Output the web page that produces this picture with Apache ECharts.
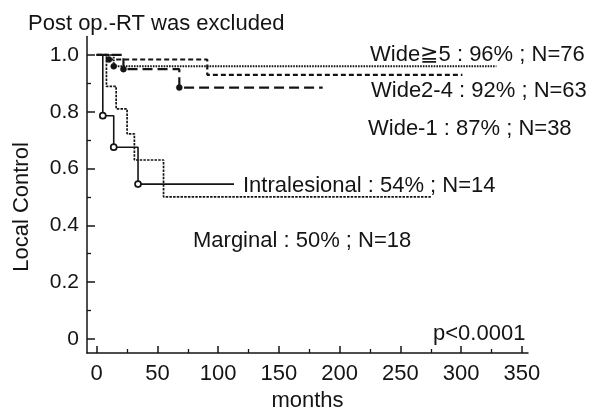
<!DOCTYPE html>
<html>
<head>
<meta charset="utf-8">
<script src="https://cdn.jsdelivr.net/npm/echarts@6/dist/echarts.min.js"></script>
<style>
html,body{margin:0;padding:0;background:#ffffff;}
#chart{width:591px;height:408px;}
</style>
</head>
<body>
<div id="chart"></div>
<script>
// ---- data (months, local control) ----
const xTickLabels = [0, 50, 100, 150, 200, 250, 300, 350];
const xMinorTicks = [25, 75, 125, 175, 225, 275, 325];
const yTickLabels = [0, 0.2, 0.4, 0.6, 0.8, 1.0];
const yMinorTicks = [0.1, 0.3, 0.5, 0.7, 0.9];

const wide5Months = [0, 14, 329];
const wide5Values = [1.0, 0.96, 0.96];
const wide5Dots = [14];

const wide24Months = [0, 10, 91, 301];
const wide24Values = [1.0, 0.984, 0.93, 0.93];
const wide24Dots = [10];

const wide1Months = [0, 22, 68, 186];
const wide1Values = [1.0, 0.95, 0.885, 0.885];
const wide1Dots = [22, 68];

const intraMonths = [0, 5, 14, 34, 113];
const intraValues = [1.0, 0.786, 0.675, 0.545, 0.545];
const intraDots = [5, 14, 34];

const marginalMonths = [0, 8, 16, 25, 31, 55, 275];
const marginalValues = [1.0, 0.889, 0.81, 0.722, 0.63, 0.50, 0.50];
const marginalDots = [];

const titleText = 'Post op.-RT was excluded';
const yAxisTitle = 'Local Control';
const xAxisTitle = 'months';
const labelWide5 = 'Wide≧5 : 96% ; N=76';
const labelWide24 = 'Wide2-4 : 92% ; N=63';
const labelWide1 = 'Wide-1 : 87% ; N=38';
const labelIntra = 'Intralesional : 54% ; N=14';
const labelMarginal = 'Marginal : 50% ; N=18';
const labelP = 'p<0.0001';

// ---- rendering ----
const INK = '#141414';
const FONT = '"Liberation Sans", Arial, "DejaVu Sans", sans-serif';

function build(months, values, dots) {
  return months.map((m, i) => ({
    value: [m, values[i]],
    symbol: dots.indexOf(m) >= 0 ? 'circle' : 'none'
  }));
}

function kmSeries(name, months, values, dots, dash, width, openDots) {
  return {
    name: name,
    type: 'line',
    step: 'end',
    xAxisIndex: 0,
    yAxisIndex: 0,
    data: build(months, values, dots),
    showSymbol: true,
    showAllSymbol: true,
    symbol: 'none',
    symbolSize: 6,
    lineStyle: { color: INK, width: width, type: dash },
    itemStyle: openDots
      ? { color: '#ffffff', borderColor: INK, borderWidth: 1.7 }
      : { color: INK, borderColor: INK, borderWidth: 0.5 },
    silent: true,
    animation: false,
    z: 3
  };
}

const chart = echarts.init(document.getElementById('chart'), null, { renderer: 'canvas' });

const axisCommon = {
  type: 'value',
  splitLine: { show: false },
  axisPointer: { show: false }
};

const option = {
  backgroundColor: '#ffffff',
  animation: false,
  grid: {
    left: 87, right: 63, top: 36.5, bottom: 55,
    containLabel: false,
    outerBoundsMode: 'none'
  },
  xAxis: [
    Object.assign({}, axisCommon, {
      min: -8, max: 355,
      position: 'bottom',
      axisLine: { show: true, onZero: false, lineStyle: { color: INK, width: 1.5 } },
      axisTick: { show: true, inside: true, length: 7, lineStyle: { color: INK, width: 1.5 }, customValues: xTickLabels },
      axisLabel: { show: true, customValues: xTickLabels, margin: 10, color: INK, fontSize: 22, fontFamily: FONT },
      name: xAxisTitle,
      nameLocation: 'middle',
      nameGap: 32,
      nameTextStyle: { color: INK, fontSize: 22, fontFamily: FONT }
    }),
    Object.assign({}, axisCommon, {
      min: -8, max: 355,
      position: 'bottom',
      axisLine: { show: false, onZero: false },
      axisTick: { show: true, inside: true, length: 4, lineStyle: { color: INK, width: 1.3 }, customValues: xMinorTicks },
      axisLabel: { show: false }
    })
  ],
  yAxis: [
    Object.assign({}, axisCommon, {
      min: -0.05, max: 1.065,
      position: 'left',
      axisLine: { show: true, onZero: false, lineStyle: { color: INK, width: 1.5 } },
      axisTick: { show: true, inside: true, length: 8, lineStyle: { color: INK, width: 1.5 }, customValues: yTickLabels },
      axisLabel: {
        show: true, customValues: yTickLabels, margin: 8, color: INK, fontSize: 21, fontFamily: FONT,
        formatter: v => (v === 0 ? '0' : v.toFixed(1))
      }
    }),
    Object.assign({}, axisCommon, {
      min: -0.05, max: 1.065,
      position: 'left',
      offset: 0,
      axisLine: { show: false, onZero: false },
      axisTick: { show: true, inside: true, length: 4, lineStyle: { color: INK, width: 1.3 }, customValues: yMinorTicks },
      axisLabel: { show: false }
    })
  ],
  series: [
    kmSeries('Marginal', marginalMonths, marginalValues, marginalDots, [2.5, 1.2], 1.7, false),
    kmSeries('Intralesional', intraMonths, intraValues, intraDots, 'solid', 1.6, true),
    kmSeries('Wide-1', wide1Months, wide1Values, wide1Dots, [10, 5], 2.2, false),
    kmSeries('Wide2-4', wide24Months, wide24Values, wide24Dots, [5, 3], 2.2, false),
    kmSeries('Wide≧5', wide5Months, wide5Values, wide5Dots, [1.6, 1.1], 1.9, false)
  ],
  graphic: [
    { type: 'text', silent: true, style: { x: 28, y: 24, text: titleText, fill: INK, font: '22px ' + FONT, textAlign: 'left', textVerticalAlign: 'middle' } },
    { type: 'text', silent: true, rotation: Math.PI / 2, x: 22, y: 207, style: { x: 0, y: 0, text: yAxisTitle, fill: INK, font: '22px ' + FONT, textAlign: 'center', textVerticalAlign: 'middle' } },
    { type: 'text', silent: true, style: { x: 370, y: 55, text: labelWide5, fill: INK, font: '22px ' + FONT, textAlign: 'left', textVerticalAlign: 'middle' } },
    { type: 'text', silent: true, style: { x: 371, y: 91, text: labelWide24, fill: INK, font: '22px ' + FONT, textAlign: 'left', textVerticalAlign: 'middle' } },
    { type: 'text', silent: true, style: { x: 368, y: 129, text: labelWide1, fill: INK, font: '22px ' + FONT, textAlign: 'left', textVerticalAlign: 'middle' } },
    { type: 'text', silent: true, style: { x: 243, y: 186, text: labelIntra, fill: INK, font: '22px ' + FONT, textAlign: 'left', textVerticalAlign: 'middle' } },
    { type: 'text', silent: true, style: { x: 193, y: 241, text: labelMarginal, fill: INK, font: '22px ' + FONT, textAlign: 'left', textVerticalAlign: 'middle' } },
    { type: 'text', silent: true, style: { x: 433, y: 334, text: labelP, fill: INK, font: '22px ' + FONT, textAlign: 'left', textVerticalAlign: 'middle' } }
  ]
};

chart.setOption(option);
</script>
</body>
</html>
